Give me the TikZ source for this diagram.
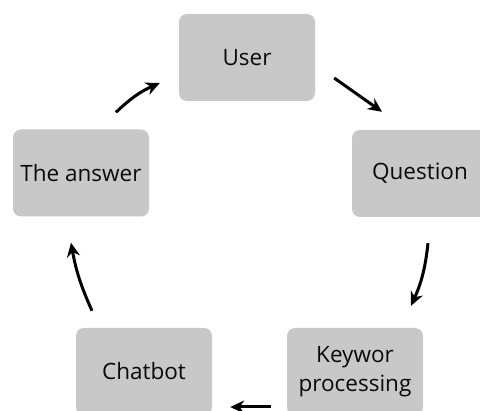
\documentclass[tikz,border=0pt]{standalone}
\usepackage{fontspec}
\setmainfont{Open Sans}
\usepackage{tikz}
\usetikzlibrary{calc, arrows.meta, positioning}
\definecolor{boxgray}{RGB}{200,200,200}
\definecolor{inkblack}{RGB}{10,10,10}

\begin{document}
\begin{tikzpicture}[x=1pt, y=-1pt, font=\fontsize{22.5}{29}\selectfont]
		% Styles for boxes and arrows
		\tikzset{stage/.style={fill=boxgray, rounded corners=8pt, minimum width=136pt, minimum height=87pt, align=center, text=inkblack, inner sep=0pt}}
		\tikzset{flow/.style={draw=black, line width=3pt, -{Stealth[length=14pt, width=13pt]}}}
		
		% Frame
		\useasboundingbox (0,0) rectangle (480,411);
		\clip (0,0) rectangle (480,411);
		
		% Stages of the cycle
		\node[stage] (user)     at (247, 57.5)  {User};
		\node[stage] (question) at (420, 173.5) {Question};
		\node[stage] (keyword)  at (355, 371.5) {Keywor\\processing};
		\node[stage] (chatbot)  at (144, 371.5) {Chatbot};
		\node[stage] (answer)   at (81, 173)    {The answer};
		
		% Arrows round the cycle
		\draw[flow] ([xshift=19pt, yshift=-20.5pt]user.east) -- ([xshift=-38pt, yshift=18pt]question.north);
		\draw[flow] ([xshift=8pt, yshift=-26pt]question.south) to[bend left=9] ([xshift=56pt, yshift=22pt]keyword.north);
		\draw[flow] ([xshift=-16pt, yshift=-35.5pt]keyword.west) -- ([xshift=18pt, yshift=-35.5pt]chatbot.east);
		\draw[flow] ([xshift=-52pt, yshift=17pt]chatbot.north) to[bend left=7] ([xshift=-10pt, yshift=-26pt]answer.south);
		\draw[flow] ([xshift=35pt, yshift=17pt]answer.north) to[bend left=10] ([xshift=-19pt, yshift=-25.5pt]user.west);
	\end{tikzpicture}
\end{document}
